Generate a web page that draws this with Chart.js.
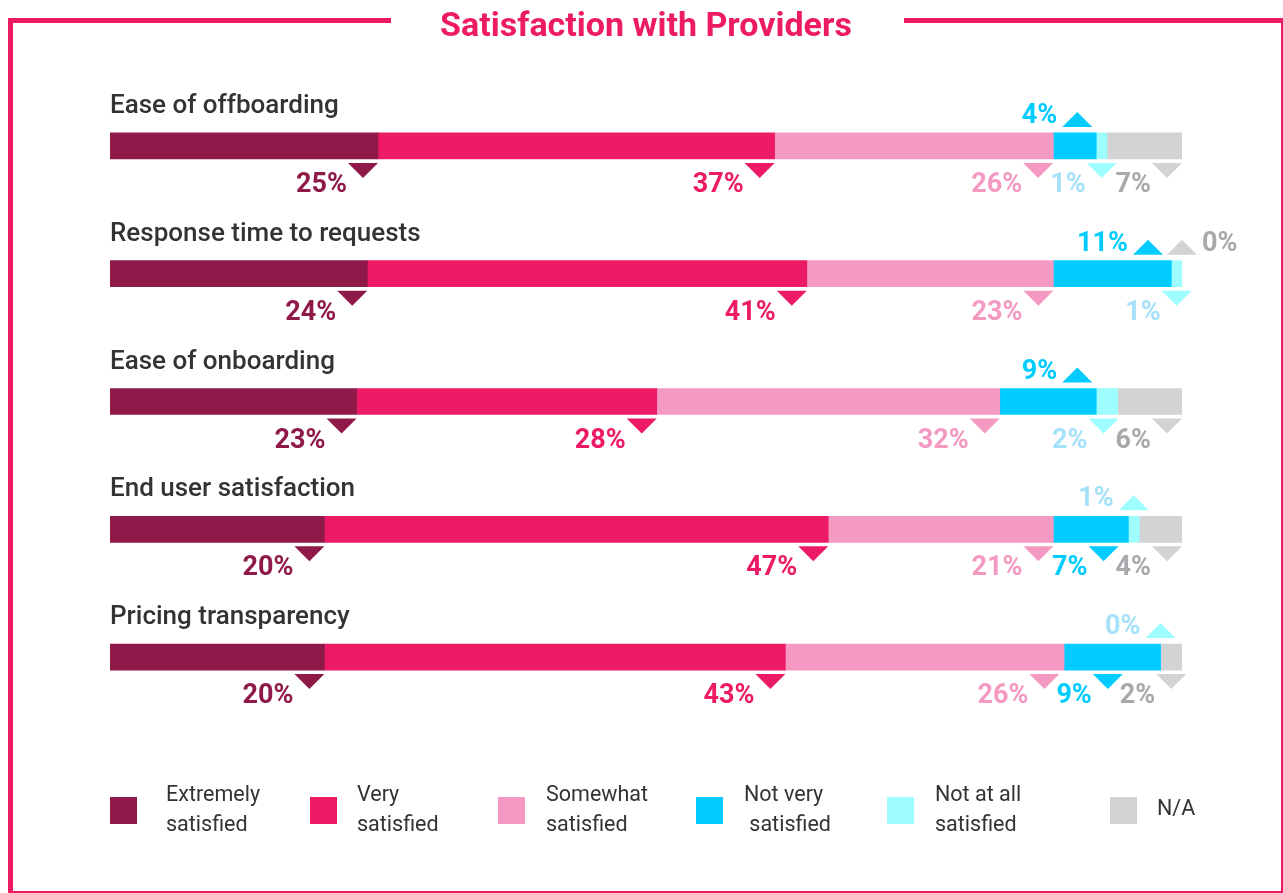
<!DOCTYPE html>
<html>
<head>
<meta charset="utf-8">
<title>Satisfaction with Providers</title>
<script src="https://cdn.jsdelivr.net/npm/chart.js@4.4.1/dist/chart.umd.min.js"></script>
<style>
    html, body { margin: 0; padding: 0; background: #ffffff; }
    #wrap { position: relative; width: 1283px; height: 893px; }
</style>
</head>
<body>
<div id="wrap"><canvas id="chart"></canvas></div>
<script>
// data
const categories = ['Ease of offboarding', 'Response time to requests', 'Ease of onboarding', 'End user satisfaction', 'Pricing transparency'];
const extremelySatisfied = [25, 24, 23, 20, 20];
const verySatisfied = [37, 41, 28, 47, 43];
const somewhatSatisfied = [26, 23, 32, 21, 26];
const notVerySatisfied = [4, 11, 9, 7, 9];
const notAtAllSatisfied = [1, 1, 2, 1, 0];
const notApplicable = [7, 0, 6, 4, 2];
const legendLabels = [['Extremely', 'satisfied'], ['Very', 'satisfied'], ['Somewhat', 'satisfied'], ['Not very', ' satisfied'], ['Not at all', 'satisfied'], ['N/A']];

// styling
const barColors = ['#8F1A4A', '#ED1A66', '#F49AC2', '#00CCFF', '#9DFDFF', '#D1D3D4'];
const labelColors = ['#8F1A4A', '#ED1A66', '#F49AC2', '#00CCFF', '#A6E1FA', '#A7A9AC'];
// which rows have the label above the bar, per series
const labelsAbove = [[], [], [], [0, 1, 2], [3, 4], [1]];
const legendBoxX = [110, 310, 498, 696, 887, 1110];
const legendTextX = [166, 357, 546, 744, 935, 1157];

const PINK = '#ED1A64';
const TRI_W = 30;
const TRI_H = 15;
const LABEL_FONT = 'bold 27px Roboto';

function tri(ctx, left, top, pointDown, color) {
    ctx.fillStyle = color;
    ctx.beginPath();
    if (pointDown) {
        ctx.moveTo(left, top);
        ctx.lineTo(left + TRI_W, top);
        ctx.lineTo(left + TRI_W / 2, top + TRI_H);
    } else {
        ctx.moveTo(left, top + TRI_H);
        ctx.lineTo(left + TRI_W, top + TRI_H);
        ctx.lineTo(left + TRI_W / 2, top);
    }
    ctx.closePath();
    ctx.fill();
}

const framePlugin = {
    id: 'frame',
    beforeDraw(chart) {
        const ctx = chart.ctx;
        ctx.save();
        ctx.strokeStyle = PINK;
        ctx.lineWidth = 5;
        ctx.beginPath();
        ctx.moveTo(391, 20.5);
        ctx.lineTo(10.5, 20.5);
        ctx.lineTo(10.5, 893.5);
        ctx.lineTo(1283.5, 893.5);
        ctx.lineTo(1283.5, 20.5);
        ctx.lineTo(904, 20.5);
        ctx.stroke();

        ctx.fillStyle = PINK;
        ctx.font = 'bold 34px Roboto';
        ctx.textAlign = 'center';
        ctx.textBaseline = 'alphabetic';
        ctx.fillText('Satisfaction with Providers', 646, 36);
        ctx.restore();
    }
};

const labelPlugin = {
    id: 'barLabels',
    afterDatasetsDraw(chart) {
        const ctx = chart.ctx;
        const nSeries = chart.data.datasets.length;
        ctx.save();
        ctx.textBaseline = 'alphabetic';

        categories.forEach((cat, i) => {
            const first = chart.getDatasetMeta(0).data[i];
            const barTop = first.y - first.height / 2;
            const barBottom = first.y + first.height / 2;

            // category name
            ctx.font = '500 26px Roboto';
            ctx.fillStyle = '#333333';
            ctx.textAlign = 'left';
            ctx.fillText(cat, chart.chartArea.left, barTop - 20);

            ctx.font = LABEL_FONT;
            let downLimit = Infinity;
            let upLimit = Infinity;
            for (let j = nSeries - 1; j >= 0; j--) {
                const el = chart.getDatasetMeta(j).data[i];
                const start = Math.min(el.base, el.x);
                const end = Math.max(el.base, el.x);
                const text = chart.data.datasets[j].data[i] + '%';
                const tw = ctx.measureText(text).width;
                const narrow = end - start < TRI_W;

                if (labelsAbove[j].includes(i)) {
                    let right = narrow ? (start + end) / 2 + TRI_W / 2 : end - 4;
                    right = Math.min(right, upLimit - 4);
                    const left = right - TRI_W;
                    tri(ctx, left, barTop - 21, false, barColors[j]);
                    ctx.fillStyle = labelColors[j];
                    if (j === nSeries - 1) {
                        ctx.textAlign = 'left';
                        ctx.fillText(text, right + 5, barTop - 10);
                    } else {
                        ctx.textAlign = 'right';
                        ctx.fillText(text, left - 5, barTop - 10);
                    }
                    upLimit = left;
                } else {
                    let right = narrow ? (start + end) / 2 + TRI_W / 2 : end;
                    right = Math.min(right, downLimit + 3);
                    const left = right - TRI_W;
                    tri(ctx, left, barBottom + 4, true, barColors[j]);
                    ctx.fillStyle = labelColors[j];
                    ctx.textAlign = 'right';
                    ctx.fillText(text, left - 1, barBottom + 33);
                    downLimit = left - 1 - tw;
                }
            }
        });

        // legend
        ctx.font = '21.5px Roboto';
        ctx.textBaseline = 'middle';
        ctx.textAlign = 'left';
        legendLabels.forEach((lines, j) => {
            ctx.fillStyle = barColors[j];
            ctx.fillRect(legendBoxX[j], 797, 27, 27);
            ctx.fillStyle = '#333333';
            if (lines.length === 1) {
                ctx.fillText(lines[0], legendTextX[j], 810);
            } else {
                ctx.fillText(lines[0], legendTextX[j], 796);
                ctx.fillText(lines[1], legendTextX[j], 826);
            }
        });
        ctx.restore();
    }
};

const seriesData = [extremelySatisfied, verySatisfied, somewhatSatisfied, notVerySatisfied, notAtAllSatisfied, notApplicable];

new Chart(document.getElementById('chart'), {
    type: 'bar',
    data: {
        labels: categories,
        datasets: seriesData.map((values, j) => ({
            label: legendLabels[j].join(' ').trim(),
            data: values,
            backgroundColor: barColors[j],
            borderWidth: 0,
            barThickness: 26
        }))
    },
    options: {
        indexAxis: 'y',
        responsive: true,
        maintainAspectRatio: false,
        animation: false,
        layout: { padding: { left: 110, right: 101, top: 82, bottom: 172 } },
        scales: {
            x: { stacked: true, min: 0, max: 100, display: false },
            y: { stacked: true, display: false }
        },
        plugins: {
            legend: { display: false },
            tooltip: { enabled: false }
        }
    },
    plugins: [framePlugin, labelPlugin]
});
</script>
</body>
</html>
